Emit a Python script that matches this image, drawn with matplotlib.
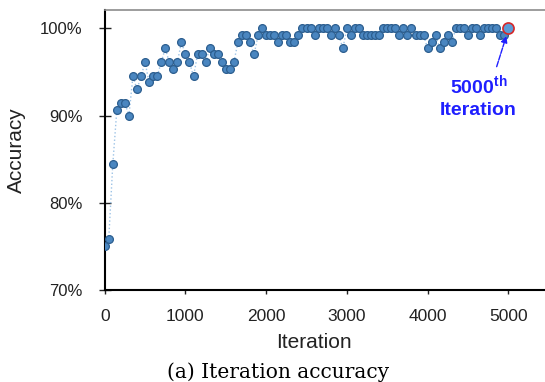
import matplotlib.pyplot as plt
from matplotlib.ticker import FuncFormatter

plt.rcParams['font.family'] = ['Liberation Sans', 'DejaVu Sans']
plt.rcParams['mathtext.fontset'] = 'custom'
plt.rcParams['mathtext.rm'] = 'Liberation Sans'
plt.rcParams['mathtext.bf'] = 'Liberation Sans:bold'

# iterations sampled every 50 steps, accuracy in %
iterations = list(range(0, 5001, 50))
accuracy = [
    75.0, 75.8, 84.4, 90.6, 91.4, 91.4, 90.0, 94.5, 93.0, 94.5,   # 0-450
    96.1, 93.8, 94.5, 94.5, 96.1, 97.7, 96.1, 95.3, 96.1, 98.4,   # 500-950
    97.0, 96.1, 94.5, 97.0, 97.0, 96.1, 97.7, 97.0, 97.0, 96.1,   # 1000-1450
    95.3, 95.3, 96.1, 98.4, 99.2, 99.2, 98.4, 97.0, 99.2, 100.0,  # 1500-1950
    99.2, 99.2, 99.2, 98.4, 99.2, 99.2, 98.4, 98.4, 99.2, 100.0,  # 2000-2450
    100.0, 100.0, 99.2, 100.0, 100.0, 100.0, 99.2, 100.0, 99.2, 97.7,  # 2500-2950
    100.0, 99.2, 100.0, 100.0, 99.2, 99.2, 99.2, 99.2, 99.2, 100.0,  # 3000-3450
    100.0, 100.0, 100.0, 99.2, 100.0, 99.2, 100.0, 99.2, 99.2, 99.2,  # 3500-3950
    97.7, 98.4, 99.2, 97.7, 98.4, 99.2, 98.4, 100.0, 100.0, 100.0,  # 4000-4450
    99.2, 100.0, 100.0, 99.2, 100.0, 100.0, 100.0, 100.0, 99.2, 99.2,  # 4500-4950
    100.0,                                                          # 5000
]

fig = plt.figure(figsize=(5.45, 3.82), dpi=100)
ax = fig.add_axes([104.7 / 545, 1 - 290 / 382, 444 / 545, 280 / 382])

ax.plot(iterations, accuracy, linestyle=':', color='#9dc3e6', linewidth=1.0,
        marker='o', markersize=5.6, markerfacecolor='#4a86c0',
        markeredgecolor='#2c5e8f', markeredgewidth=0.9, zorder=3)
# highlight last point
ax.plot(iterations[-1], accuracy[-1], marker='o', markersize=8,
        markerfacecolor='#5b9bd5', markeredgecolor='#d62728',
        markeredgewidth=1.2, zorder=4)

ax.set_xlim(0, 5500)
ax.set_ylim(70, 102.1)
ax.set_xticks([0, 1000, 2000, 3000, 4000, 5000])
ax.set_yticks([70, 80, 90, 100])
ax.yaxis.set_major_formatter(FuncFormatter(lambda v, p: f"{v:.0f}%"))

ax.tick_params(axis='y', direction='inout', length=9, width=1, pad=11.5,
               labelsize=12, colors='#222222')
ax.tick_params(axis='x', direction='out', length=3, width=1, pad=11,
               labelsize=12.5, colors='#222222')

for side in ['left', 'bottom']:
    ax.spines[side].set_linewidth(1.5)
    ax.spines[side].set_color('black')
ax.spines['top'].set_color('#8c8c8c')
ax.spines['top'].set_linewidth(1.2)
ax.spines['right'].set_visible(False)

ax.set_xlabel('Iteration', fontsize=15, color='#222222')
ax.xaxis.set_label_coords(0.471, -0.155)
ax.set_ylabel('Accuracy', fontsize=15, color='#222222')
ax.yaxis.set_label_coords(-0.177, 0.5)

# annotation of the final iteration
ax.annotate('', xy=(4985, 99.4), xytext=(4845, 95.3),
            arrowprops=dict(arrowstyle='-|>', color='#1f1fff', lw=1.0,
                            linestyle=(0, (4, 1)), mutation_scale=9))
ax.text(4630, 92.2, '5000$^{\\mathbf{th}}$\nIteration', color='#1f1fff',
        fontsize=14, fontweight='bold', ha='center', va='center',
        multialignment='center', linespacing=1.3)

fig.text(278.5 / 545, 1 - 372 / 382, '(a) Iteration accuracy',
         family='DejaVu Serif', fontsize=14.5, ha='center', va='center')

fig.savefig('out.png', dpi=100)
